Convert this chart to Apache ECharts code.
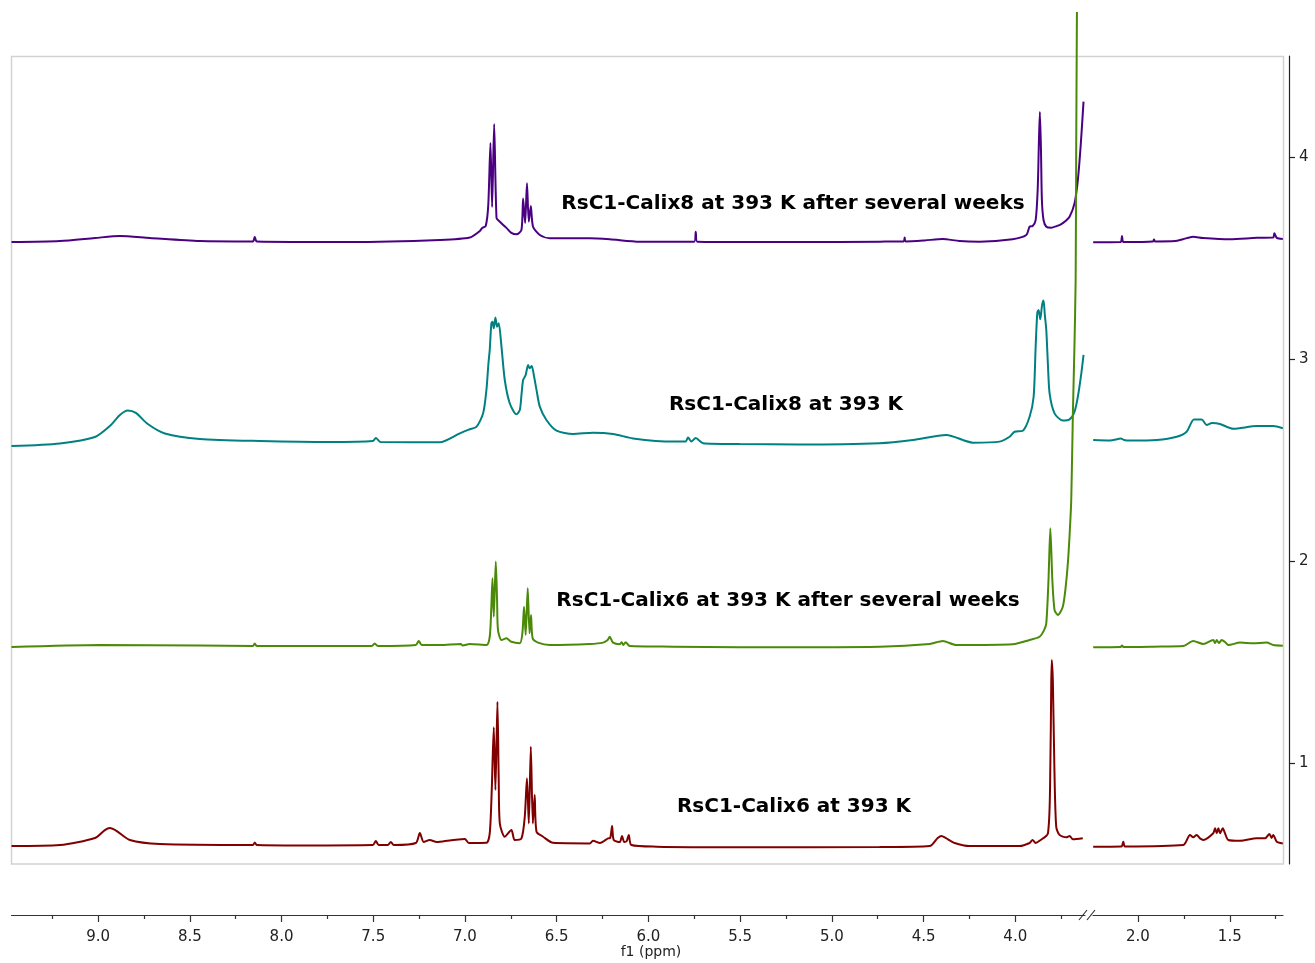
<!DOCTYPE html>
<html>
<head>
<meta charset="utf-8">
<script src="https://cdn.jsdelivr.net/npm/echarts@6/dist/echarts.min.js"></script>
<style>
  html, body { margin: 0; padding: 0; background: #ffffff; }
  #chart { width: 1315px; height: 963px; }
</style>
</head>
<body>
<div id="chart"></div>
<script>
// 1H NMR spectra, f1 in ppm, stacked with vertical offsets.
// Each trace is split in two parts around the axis break (3.62 ... 2.25 ppm).

// RsC1-Calix8 at 393 K after several weeks
const calix8WeeksA = [[9.472,3.579],[9.208,3.584],[9.017,3.599],[8.881,3.609],[8.718,3.599],[8.445,3.584],[8.156,3.582],[8.146,3.604],[8.135,3.582],[7.628,3.579],[7.137,3.589],[6.974,3.601],[6.919,3.634],[6.906,3.649],[6.887,3.658],[6.873,3.762],[6.861,4.069],[6.852,3.752],[6.841,4.163],[6.828,3.698],[6.814,3.683],[6.774,3.649],[6.747,3.624],[6.719,3.617],[6.692,3.639],[6.683,3.794],[6.672,3.673],[6.662,3.870],[6.652,3.680],[6.641,3.757],[6.629,3.655],[6.592,3.614],[6.538,3.598],[6.320,3.598],[6.211,3.593],[6.047,3.581],[5.750,3.581],[5.742,3.630],[5.734,3.581],[5.175,3.579],[4.740,3.581],[4.609,3.582],[4.603,3.602],[4.598,3.582],[4.494,3.587],[4.396,3.594],[4.304,3.584],[4.195,3.581],[4.015,3.593],[3.940,3.614],[3.922,3.655],[3.906,3.658],[3.889,3.688],[3.878,3.837],[3.871,4.084],[3.866,4.223],[3.860,4.035],[3.855,3.787],[3.846,3.688],[3.831,3.655],[3.804,3.650],[3.775,3.658],[3.749,3.668],[3.726,3.683],[3.704,3.704],[3.677,3.771],[3.659,3.886],[3.644,4.051],[3.628,4.274]];
const calix8WeeksB = [[2.244,3.578],[2.095,3.579],[2.087,3.609],[2.079,3.579],[1.918,3.582],[1.913,3.592],[1.907,3.582],[1.798,3.584],[1.755,3.593],[1.700,3.605],[1.646,3.599],[1.499,3.593],[1.353,3.600],[1.264,3.601],[1.257,3.622],[1.244,3.600],[1.211,3.594]];

// RsC1-Calix8 at 393 K
const calix8A = [[9.472,2.569],[9.208,2.582],[9.017,2.614],[8.936,2.668],[8.881,2.723],[8.838,2.745],[8.794,2.733],[8.729,2.678],[8.636,2.631],[8.445,2.604],[8.118,2.594],[7.737,2.589],[7.502,2.594],[7.486,2.609],[7.459,2.589],[7.137,2.588],[7.028,2.632],[6.983,2.649],[6.937,2.665],[6.901,2.731],[6.883,2.847],[6.872,2.979],[6.865,3.045],[6.856,3.177],[6.850,3.185],[6.843,3.152],[6.834,3.206],[6.825,3.160],[6.816,3.177],[6.801,3.061],[6.783,2.896],[6.756,2.781],[6.719,2.726],[6.701,2.748],[6.692,2.822],[6.683,2.896],[6.669,2.921],[6.656,2.970],[6.647,2.954],[6.636,2.965],[6.623,2.912],[6.610,2.847],[6.592,2.764],[6.556,2.698],[6.501,2.645],[6.411,2.629],[6.302,2.635],[6.193,2.629],[6.084,2.607],[5.866,2.591],[5.797,2.592],[5.784,2.612],[5.766,2.591],[5.742,2.609],[5.702,2.583],[5.502,2.579],[5.175,2.577],[4.740,2.583],[4.558,2.599],[4.376,2.624],[4.231,2.586],[4.086,2.591],[4.031,2.615],[4.004,2.640],[3.959,2.645],[3.922,2.714],[3.900,2.813],[3.889,3.061],[3.880,3.229],[3.873,3.243],[3.864,3.197],[3.854,3.267],[3.846,3.289],[3.839,3.218],[3.831,3.144],[3.822,2.970],[3.813,2.830],[3.786,2.731],[3.741,2.695],[3.704,2.701],[3.677,2.739],[3.659,2.813],[3.640,2.929],[3.628,3.020]];
const calix8B = [[2.244,2.599],[2.153,2.597],[2.109,2.604],[2.093,2.607],[2.076,2.599],[2.044,2.596],[1.898,2.599],[1.789,2.615],[1.735,2.640],[1.695,2.701],[1.653,2.701],[1.626,2.673],[1.597,2.683],[1.553,2.678],[1.481,2.655],[1.353,2.668],[1.263,2.668],[1.211,2.657]];

// RsC1-Calix6 at 393 K after several weeks
const calix6WeeksA = [[9.472,1.574],[8.990,1.584],[8.445,1.582],[8.156,1.579],[8.146,1.592],[8.135,1.579],[7.508,1.579],[7.492,1.592],[7.475,1.579],[7.268,1.584],[7.252,1.604],[7.235,1.584],[7.137,1.584],[7.023,1.589],[7.012,1.582],[6.974,1.589],[6.883,1.584],[6.865,1.625],[6.857,1.757],[6.850,1.914],[6.843,1.724],[6.832,1.997],[6.825,1.807],[6.820,1.658],[6.801,1.609],[6.774,1.617],[6.747,1.600],[6.701,1.593],[6.687,1.642],[6.678,1.774],[6.669,1.634],[6.658,1.865],[6.648,1.642],[6.640,1.733],[6.631,1.617],[6.602,1.596],[6.538,1.584],[6.320,1.589],[6.247,1.596],[6.222,1.609],[6.211,1.625],[6.193,1.596],[6.156,1.588],[6.146,1.598],[6.137,1.584],[6.124,1.598],[6.102,1.579],[5.866,1.576],[5.502,1.573],[4.740,1.576],[4.467,1.589],[4.395,1.604],[4.322,1.584],[4.013,1.588],[3.922,1.609],[3.868,1.625],[3.843,1.658],[3.831,1.692],[3.819,1.906],[3.809,2.162],[3.798,1.906],[3.786,1.757],[3.768,1.733],[3.741,1.774],[3.726,1.866],[3.713,1.995],[3.704,2.129],[3.695,2.302],[3.686,2.733],[3.678,3.045],[3.671,3.391],[3.668,4.035],[3.664,4.718]];
const calix6WeeksB = [[2.244,1.573],[2.095,1.574],[2.087,1.582],[2.079,1.574],[1.917,1.576],[1.753,1.579],[1.699,1.604],[1.644,1.589],[1.590,1.609],[1.580,1.594],[1.571,1.609],[1.559,1.594],[1.544,1.609],[1.526,1.599],[1.508,1.584],[1.444,1.596],[1.372,1.593],[1.299,1.596],[1.263,1.584],[1.211,1.581]];

// RsC1-Calix6 at 393 K
const calix6A = [[9.472,0.589],[9.208,0.594],[9.017,0.629],[8.963,0.668],[8.936,0.678],[8.898,0.663],[8.827,0.619],[8.663,0.599],[8.156,0.594],[8.146,0.606],[8.135,0.594],[7.900,0.592],[7.502,0.594],[7.486,0.614],[7.470,0.594],[7.421,0.594],[7.404,0.609],[7.388,0.594],[7.268,0.604],[7.246,0.653],[7.225,0.609],[7.192,0.619],[7.154,0.609],[7.137,0.610],[7.001,0.624],[6.979,0.604],[6.883,0.605],[6.865,0.652],[6.854,0.866],[6.843,1.177],[6.834,0.866],[6.823,1.303],[6.816,0.916],[6.810,0.701],[6.783,0.635],[6.747,0.668],[6.729,0.619],[6.692,0.627],[6.674,0.734],[6.662,0.924],[6.652,0.701],[6.641,1.081],[6.630,0.701],[6.620,0.842],[6.610,0.660],[6.574,0.635],[6.520,0.605],[6.320,0.602],[6.302,0.615],[6.264,0.604],[6.220,0.627],[6.208,0.629],[6.198,0.688],[6.189,0.619],[6.156,0.609],[6.144,0.639],[6.132,0.609],[6.118,0.614],[6.107,0.644],[6.093,0.594],[5.956,0.586],[5.502,0.583],[4.740,0.584],[4.467,0.589],[4.423,0.629],[4.402,0.639],[4.380,0.629],[4.331,0.604],[4.249,0.589],[3.977,0.589],[3.922,0.604],[3.906,0.619],[3.889,0.604],[3.868,0.615],[3.822,0.652],[3.809,0.982],[3.804,1.395],[3.801,1.510],[3.795,1.396],[3.787,0.982],[3.777,0.685],[3.759,0.644],[3.722,0.632],[3.704,0.639],[3.686,0.622],[3.632,0.627]];
const calix6B = [[2.244,0.586],[2.090,0.587],[2.080,0.610],[2.071,0.587],[1.753,0.594],[1.717,0.644],[1.699,0.632],[1.680,0.644],[1.662,0.627],[1.644,0.619],[1.590,0.652],[1.580,0.677],[1.571,0.652],[1.562,0.677],[1.553,0.652],[1.538,0.677],[1.526,0.652],[1.508,0.619],[1.444,0.615],[1.353,0.627],[1.308,0.627],[1.284,0.649],[1.272,0.629],[1.263,0.644],[1.244,0.610],[1.211,0.602]];

// Axis ranges and ticks
const ppmRangeLeft = [3.62, 9.472];
const ppmRangeRight = [1.21, 2.245];
const ppmMajorLeft = [9.0, 8.5, 8.0, 7.5, 7.0, 6.5, 6.0, 5.5, 5.0, 4.5, 4.0];
const ppmMinorLeft = [9.25, 8.75, 8.25, 7.75, 7.25, 6.75, 6.25, 5.75, 5.25, 4.75, 4.25, 3.75];
const ppmMajorRight = [2.0, 1.5];
const ppmMinorRight = [1.75, 1.25];
const intensityRange = [0.5, 4.5];
const intensityTicks = [1, 2, 3, 4];

const traceNames = [
  'RsC1-Calix8 at 393 K after several weeks',
  'RsC1-Calix8 at 393 K',
  'RsC1-Calix6 at 393 K after several weeks',
  'RsC1-Calix6 at 393 K'
];
const traceColors = ['#4B0082', '#008080', '#4A8A08', '#800000'];

const tickFont = { fontFamily: '"DejaVu Sans", Verdana, sans-serif', fontSize: 15, color: '#222' };
const axisLineColor = '#333';

function majorAxis(gridIndex, range, ticks) {
  return {
    type: 'value', gridIndex, min: range[0], max: range[1], inverse: true,
    position: 'bottom', offset: 51,
    axisLine: { show: true, onZero: false, lineStyle: { color: axisLineColor, width: 1.2 } },
    axisTick: { show: true, customValues: ticks, length: 7, lineStyle: { color: axisLineColor, width: 1.2 } },
    axisLabel: Object.assign({ show: true, customValues: ticks, margin: 15,
      formatter: v => Number(v).toFixed(1) }, tickFont),
    splitLine: { show: false }
  };
}
function minorAxis(gridIndex, range, ticks) {
  return {
    type: 'value', gridIndex, min: range[0], max: range[1], inverse: true,
    position: 'bottom', offset: 51,
    axisLine: { show: false, onZero: false },
    axisTick: { show: true, customValues: ticks, length: 4, lineStyle: { color: axisLineColor, width: 1.2 } },
    axisLabel: { show: false },
    splitLine: { show: false }
  };
}

function trace(data, color, xAxisIndex, yAxisIndex, clip) {
  return {
    type: 'line', data, xAxisIndex, yAxisIndex,
    showSymbol: false, symbol: 'none', smooth: 0.25, clip: clip,
    lineStyle: { color, width: 2 },
    emphasis: { disabled: true }, silent: true
  };
}

const chart = echarts.init(document.getElementById('chart'), null, { renderer: 'canvas' });

const labelFont = 'bold 20px "DejaVu Sans", Arial, sans-serif';
const labelPositions = [[793, 204], [786, 405], [788, 601], [794, 807]];

chart.setOption({
  animation: false,
  backgroundColor: '#ffffff',
  grid: [
    { left: 11.5, top: 56, width: 1073.5, height: 808, show: false },
    { left: 1093, top: 56, width: 190, height: 808, show: false }
  ],
  xAxis: [
    majorAxis(0, ppmRangeLeft, ppmMajorLeft),
    minorAxis(0, ppmRangeLeft, ppmMinorLeft),
    majorAxis(1, ppmRangeRight, ppmMajorRight),
    minorAxis(1, ppmRangeRight, ppmMinorRight)
  ],
  yAxis: [
    { type: 'value', gridIndex: 0, min: intensityRange[0], max: intensityRange[1], show: false, splitLine: { show: false } },
    {
      type: 'value', gridIndex: 1, min: intensityRange[0], max: intensityRange[1],
      position: 'right', offset: 6,
      axisLine: { show: true, lineStyle: { color: '#222', width: 1.2 } },
      axisTick: { show: true, customValues: intensityTicks, length: 6, lineStyle: { color: '#222', width: 1.2 } },
      axisLabel: Object.assign({ show: true, customValues: intensityTicks, margin: 10 }, tickFont),
      splitLine: { show: false }
    }
  ],
  series: [
    trace(calix8WeeksA, traceColors[0], 0, 0, true),
    trace(calix8WeeksB, traceColors[0], 2, 1, true),
    trace(calix8A, traceColors[1], 0, 0, true),
    trace(calix8B, traceColors[1], 2, 1, true),
    trace(calix6WeeksA, traceColors[2], 0, 0, false),
    trace(calix6WeeksB, traceColors[2], 2, 1, true),
    trace(calix6A, traceColors[3], 0, 0, true),
    trace(calix6B, traceColors[3], 2, 1, true)
  ],
  graphic: [
    // plot frame spanning both segments
    { type: 'rect', z: -1, silent: true,
      shape: { x: 11.5, y: 56.5, width: 1272, height: 807.5 },
      style: { fill: 'none', stroke: '#d2d2d2', lineWidth: 1.5 } },
    // axis break marks
    { type: 'line', silent: true, shape: { x1: 1079, y1: 920, x2: 1087, y2: 910 },
      style: { stroke: axisLineColor, lineWidth: 1.2 } },
    { type: 'line', silent: true, shape: { x1: 1087, y1: 920, x2: 1095, y2: 910 },
      style: { stroke: axisLineColor, lineWidth: 1.2 } },
    // axis title
    { type: 'text', silent: true, x: 651, y: 952,
      style: { text: 'f1 (ppm)', textAlign: 'center', textVerticalAlign: 'middle',
        font: '14px "DejaVu Sans", Verdana, sans-serif', fill: '#222' } }
  ].concat(traceNames.map((name, i) => ({
    type: 'text', silent: true, x: labelPositions[i][0], y: labelPositions[i][1],
    style: { text: name, textAlign: 'center', textVerticalAlign: 'middle', font: labelFont, fill: '#000' }
  })))
});
</script>
</body>
</html>
